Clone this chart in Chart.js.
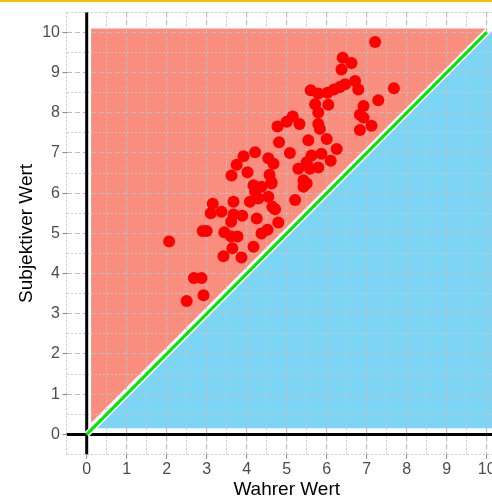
<!DOCTYPE html>
<html>
<head>
<meta charset="utf-8">
<script src="https://cdn.jsdelivr.net/npm/chart.js@4/dist/chart.umd.min.js"></script>
<style>
  html, body { margin: 0; padding: 0; background: #fff; overflow: hidden; }
  #wrap { position: relative; width: 492px; height: 496px; overflow: hidden; }
  #topbar { position: absolute; left: 0; top: 0; width: 492px; height: 2px; background: #FBBF00; z-index: 2; }
  canvas { position: absolute; left: 0; top: 0; }
</style>
</head>
<body>
<div id="wrap">
  <div id="topbar"></div>
  <canvas id="chart" width="520" height="496"></canvas>
</div>
<script>
// Beobachtungen
const wahrerWert = [
  2.06, 2.50, 2.68, 2.87, 2.92, 2.90, 3.00, 3.10, 3.15, 3.37,
  3.42, 3.44, 3.61, 3.77, 3.64, 3.87, 3.67, 3.67, 3.61, 3.89,
  3.62, 3.75, 3.92, 4.02, 4.21, 4.17, 4.25, 4.37, 4.52, 4.79,
  4.64, 4.71, 4.54, 4.08, 4.29, 4.17, 4.37, 4.62, 4.21, 4.54,
  4.67, 4.57, 4.62, 4.77, 5.00, 5.15, 5.32, 4.81, 5.08, 5.29,
  5.21, 5.42, 5.50, 5.42, 5.62, 5.87, 6.10, 5.50, 5.79, 5.58,
  5.54, 6.00, 6.25, 5.79, 5.83, 5.71, 6.04, 5.79, 5.60, 5.79,
  6.02, 6.18, 6.33, 6.46, 6.71, 6.79, 6.40, 6.62, 6.37, 7.21,
  7.68, 7.29, 6.92, 6.83, 6.92, 7.12, 6.83
];
const subjektiverWert = [
  4.80, 3.32, 3.89, 3.89, 3.46, 5.06, 5.06, 5.50, 5.74, 5.54,
  4.43, 5.03, 4.92, 4.92, 4.63, 4.40, 5.79, 5.47, 5.29, 5.44,
  6.44, 6.71, 6.92, 6.52, 7.02, 4.67, 5.37, 5.00, 5.09, 5.27,
  5.66, 5.60, 5.91, 5.79, 5.87, 6.20, 6.16, 6.24, 6.04, 6.87,
  6.73, 6.46, 6.28, 7.66, 7.78, 7.91, 7.72, 7.27, 7.00, 6.61,
  5.83, 6.32, 6.24, 6.16, 6.94, 6.98, 6.81, 6.77, 6.64, 6.61,
  7.32, 7.35, 7.10, 7.72, 7.60, 8.21, 8.20, 8.01, 8.56, 8.48,
  8.50, 8.58, 8.64, 8.71, 8.79, 8.58, 9.37, 9.24, 9.08, 9.76,
  8.61, 8.31, 8.17, 7.95, 7.88, 7.68, 7.57
];

// Flaechen: ueberschaetzt (rot) / unterschaetzt (blau)
const overX = [0.11, 0.11, 9.97, 0.11];
const overY = [0.29, 10.1, 10.1, 0.29];
const underX = [0.25, 10.3, 10.3, 0.25];
const underY = [0.15, 0.15, 10.2, 0.15];

const diagonal = [0, 10];
const axisSpan = [-0.5, 10.5];
const tickValues = [0, 1, 2, 3, 4, 5, 6, 7, 8, 9, 10];

const toPoints = (xs, ys) => xs.map((x, i) => ({ x: x, y: ys[i] }));
const isMajor = v => tickValues.some(t => Math.abs(t - v) < 1e-6);

// grid should sit above the coloured areas but below the points
const gridOnTop = {
  id: 'gridOnTop',
  afterDatasetDraw(chart, args) {
    if (args.index !== 1) return;
    chart.scales.x.drawGrid(chart.chartArea);
    chart.scales.y.drawGrid(chart.chartArea);
  }
};

function scaleOptions(axis) {
  const vertical = axis === 'y';
  return {
    type: 'linear',
    min: -0.5,
    max: 10.5,
    afterFit: s => { if (vertical) s.width = 66.7; else s.height = 41.5; },
    ticks: {
      stepSize: 0.5,
      autoSkip: false,
      maxTicksLimit: 100,
      maxRotation: 0,
      padding: vertical ? 2.7 : 1.5,
      color: '#4D4D4D',
      font: { family: 'Liberation Sans', size: 16 },
      callback: v => isMajor(v) ? String(Math.round(v)) : ''
    },
    grid: {
      color: c => isMajor(c.tick.value) ? '#BDBDBD' : '#CBCBCB',
      lineWidth: c => isMajor(c.tick.value) ? 1.1 : 0.8,
      tickColor: c => isMajor(c.tick.value) ? '#8C8C8C' : 'rgba(0,0,0,0)',
      tickLength: 4,
      tickWidth: 1
    },
    border: {
      display: false,
      dash: c => isMajor(c.tick.value) ? [5, 3] : [2, 2]
    },
    title: {
      display: true,
      text: vertical ? 'Subjektiver Wert' : 'Wahrer Wert',
      color: '#000',
      font: { family: 'Liberation Sans', size: 19, lineHeight: 0.63 },
      padding: vertical ? { top: 20.4, bottom: 0 } : { top: 0, bottom: 0 }
    }
  };
}

const ctx = document.getElementById('chart').getContext('2d');
new Chart(ctx, {
  type: 'scatter',
  data: {
    datasets: [
      {
        label: 'ueber',
        data: toPoints(overX, overY),
        showLine: true,
        fill: 'shape',
        backgroundColor: '#F98E7F',
        borderWidth: 0,
        pointRadius: 0,
        order: 10
      },
      {
        label: 'unter',
        data: toPoints(underX, underY),
        showLine: true,
        fill: 'shape',
        backgroundColor: '#7DD5F5',
        borderWidth: 0,
        pointRadius: 0,
        order: 9
      },
      {
        label: 'x0',
        data: toPoints([0, 0], axisSpan),
        showLine: true,
        borderColor: '#000',
        borderWidth: 3,
        pointRadius: 0,
        order: 6
      },
      {
        label: 'y0',
        data: toPoints(axisSpan, [0, 0]),
        showLine: true,
        borderColor: '#000',
        borderWidth: 3,
        pointRadius: 0,
        order: 6
      },
      {
        label: 'weiss',
        data: toPoints(diagonal, diagonal),
        showLine: true,
        borderColor: '#FFFFFF',
        borderWidth: 6,
        pointRadius: 0,
        order: 5
      },
      {
        label: 'diagonale',
        data: toPoints(diagonal, diagonal),
        showLine: true,
        borderColor: '#00E600',
        borderWidth: 3,
        pointRadius: 0,
        order: 4
      },
      {
        label: 'Werte',
        data: toPoints(wahrerWert, subjektiverWert),
        backgroundColor: '#FF0000',
        borderWidth: 0,
        pointRadius: 6,
        order: 1
      }
    ]
  },
  options: {
    responsive: false,
    devicePixelRatio: 1,
    animation: false,
    layout: { padding: { top: 9.3, right: 13.3, left: 0, bottom: 0 } },
    plugins: { legend: { display: false }, tooltip: { enabled: false } },
    scales: { x: scaleOptions('x'), y: scaleOptions('y') }
  },
  plugins: [gridOnTop]
});
</script>
</body>
</html>
